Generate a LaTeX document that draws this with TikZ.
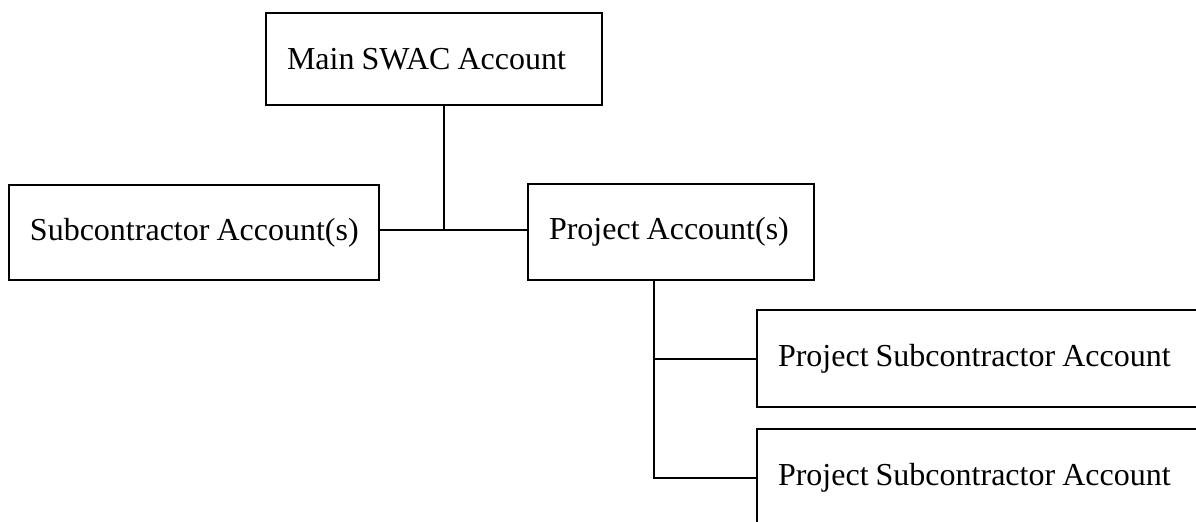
\documentclass[tikz,border=0pt]{standalone}
\usepackage{fontspec}
\setmainfont{Liberation Serif}
\usepackage{tikz}

\begin{document}
\begin{tikzpicture}[x=0.5pt, y=-0.5pt,
  acctbox/.style={draw, line width=1pt, anchor=north west, inner xsep=10.5pt,
    font=\fontsize{16pt}{19pt}\selectfont,
    execute at begin node={\spaceskip=0.22em\relax}},
  link/.style={line width=1pt}]

\useasboundingbox (0,0) rectangle (1196,521);
\clip (0,0) rectangle (1196,521);

\node[acctbox, text width=147pt, minimum height=46pt] (main) at (265,12) {\mbox{Main SWAC Account}};

\node[acctbox, text width=164pt, minimum height=47.5pt] (sub) at (8,184) {\mbox{Subcontractor Account(s)}};
\node[acctbox, text width=122pt, minimum height=48pt] (proj) at (527,183) {\mbox{Project Account(s)}};

\node[acctbox, text width=203.5pt, minimum height=48.5pt] (psub1) at (756,309) {\mbox{Project Subcontractor Account}};
\node[acctbox, text width=203.5pt, minimum height=48.5pt] (psub2) at (756,428) {\mbox{Project Subcontractor Account}};

\coordinate (hub) at (444,230);
\draw[link] (main.south -| hub) -- (hub);
\draw[link] (sub.east |- hub) -- (proj.west |- hub);

\coordinate (trunk) at (654,0);
\draw[link] (proj.south -| trunk) |- (psub1.west);
\draw[link] (proj.south -| trunk) |- (psub2.west);

\end{tikzpicture}
\end{document}
